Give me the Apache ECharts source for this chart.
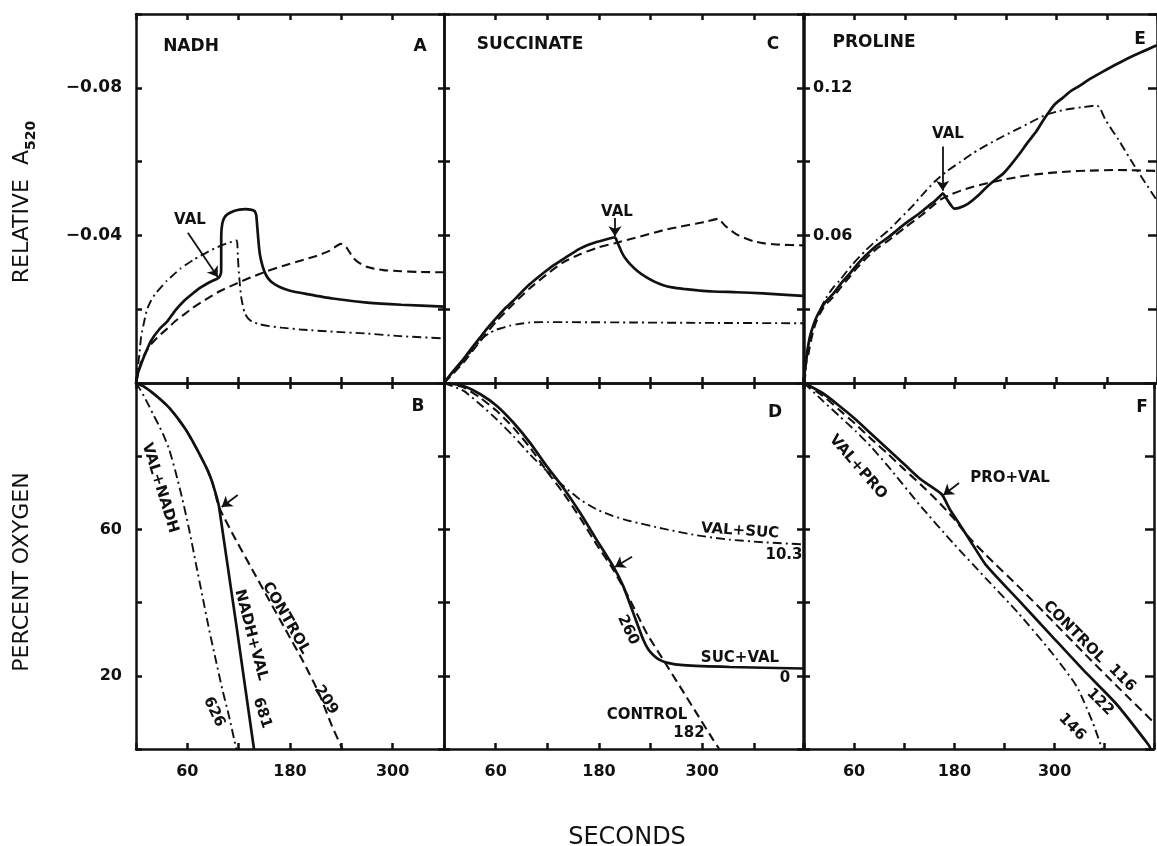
<!DOCTYPE html>
<html>
<head>
<meta charset="utf-8">
<title>Valinomycin: NADH, succinate, proline</title>
<script src="https://cdn.jsdelivr.net/npm/echarts@6/dist/echarts.min.js"></script>
<style>
  html, body { margin: 0; padding: 0; background: #fff; }
  #chart { width: 1157px; height: 846px; }
</style>
</head>
<body>
<div id="chart"></div>
<script>
// [seconds, value] pairs
// top row: relative A520, bottom row: percent oxygen

// A - NADH
const nadhSolid = [[0,0],[2,-0.0025],[5.8,-0.005],[10,-0.0075],[17.5,-0.0114],[27,-0.0145],[36.9,-0.0168],[46,-0.0197],[56.3,-0.0223],[66,-0.0242],[75.7,-0.0259],[86,-0.0273],[97,-0.0286],[99.5,-0.03],[99.7,-0.0405],[100.9,-0.0432],[103,-0.0447],[106.7,-0.0457],[114.5,-0.0466],[121,-0.047],[128,-0.0471],[134,-0.047],[138.5,-0.0466],[140.5,-0.0455],[141.5,-0.043],[142.4,-0.0405],[143.5,-0.0375],[144.7,-0.035],[147,-0.0325],[150,-0.0303],[154,-0.0285],[160,-0.0271],[168,-0.026],[180,-0.025],[200,-0.0241],[230,-0.0229],[270,-0.0218],[310,-0.0212],[360,-0.0207]];
const nadhDashed = [[0,0],[3,-0.003],[5.8,-0.0055],[10,-0.0078],[17.5,-0.0105],[27,-0.0128],[36.9,-0.0148],[46,-0.0168],[56.3,-0.0186],[66,-0.0203],[75.7,-0.0218],[87,-0.0234],[98.9,-0.025],[116,-0.0268],[133.9,-0.0286],[152,-0.0302],[172.7,-0.0318],[192,-0.0331],[211.5,-0.0345],[226,-0.0358],[239.4,-0.0377],[243,-0.0374],[246.4,-0.0366],[250,-0.0353],[254.1,-0.0339],[260,-0.0327],[269.7,-0.0315],[280,-0.0309],[289,-0.0306],[310,-0.0303],[330,-0.0301],[360,-0.03]];
const nadhDashDot = [[0,0],[2,-0.004],[3.9,-0.0077],[6,-0.0125],[9.7,-0.0168],[13,-0.02],[17.5,-0.0223],[23,-0.0243],[29.1,-0.0259],[36,-0.0277],[44.6,-0.0295],[52,-0.031],[60.1,-0.0323],[68,-0.0335],[75.7,-0.0345],[85,-0.0357],[95.1,-0.0368],[106,-0.0378],[117.6,-0.0386],[118.6,-0.037],[119.1,-0.0341],[120.7,-0.0286],[123,-0.0232],[126.9,-0.0191],[131,-0.0175],[135.8,-0.0166],[145,-0.0159],[153.3,-0.0155],[170,-0.015],[192.1,-0.0145],[230.9,-0.0139],[269.7,-0.0134],[308.5,-0.0127],[360,-0.0121]];

// C - succinate
const sucSolid = [[0,0],[10,-0.003],[22.4,-0.0064],[32,-0.0094],[41.8,-0.0123],[51,-0.015],[61.1,-0.0177],[70,-0.02],[80.5,-0.0223],[90,-0.0246],[99.8,-0.0268],[110,-0.0288],[119.2,-0.0305],[128,-0.032],[138.5,-0.0336],[148,-0.035],[157.9,-0.0364],[167,-0.0374],[177.2,-0.0382],[188,-0.0389],[198.5,-0.0395],[200,-0.039],[201.2,-0.0382],[203.5,-0.037],[206.3,-0.0355],[210,-0.034],[215.9,-0.0323],[225,-0.0303],[235.3,-0.0286],[245,-0.0274],[254.6,-0.0265],[265,-0.0259],[277.9,-0.0255],[295,-0.0251],[312.7,-0.0248],[340,-0.0246],[370.7,-0.0243],[417,-0.0236]];
const sucDashed = [[0,0],[10,-0.0024],[22.4,-0.0055],[41.8,-0.0113],[61.1,-0.0168],[80.5,-0.0214],[99.8,-0.0257],[119.2,-0.0294],[138.5,-0.0327],[157.9,-0.0349],[177.2,-0.0366],[198.5,-0.0379],[220,-0.0392],[254.6,-0.0414],[275,-0.0424],[293.3,-0.0432],[306,-0.0438],[318.5,-0.0445],[322,-0.0438],[326.2,-0.0427],[335.9,-0.0409],[343,-0.0399],[351.4,-0.0391],[360,-0.0384],[370.7,-0.0379],[390,-0.0375],[417,-0.0373]];
const sucDashDot = [[0,0],[10,-0.0027],[22.4,-0.0059],[32,-0.0088],[41.8,-0.0114],[47,-0.0126],[53.4,-0.0136],[60,-0.0144],[68.9,-0.015],[76,-0.0155],[84.4,-0.0159],[99.8,-0.0164],[120,-0.0165],[138.5,-0.0165],[215.9,-0.0164],[293.3,-0.0163],[417,-0.0162]];

// E - proline
const proSolid = [[0,0],[1.5,0.007],[3,0.011],[5.1,0.0155],[7.5,0.0195],[10.9,0.0232],[14.5,0.0265],[18.7,0.0293],[25,0.0328],[34.3,0.0361],[44,0.0405],[53.8,0.0443],[63,0.0481],[73.2,0.0518],[86,0.0558],[100.5,0.0593],[110,0.062],[120,0.0648],[130,0.0672],[139.5,0.0696],[148,0.072],[155,0.0739],[161,0.0758],[164.8,0.0771],[167,0.0762],[169.9,0.0746],[174,0.0725],[178.4,0.0709],[184,0.0712],[194,0.0727],[205,0.0757],[217.4,0.0798],[227,0.0826],[236.9,0.0853],[246,0.0889],[256.3,0.0934],[266,0.098],[275.8,0.1023],[284,0.1068],[291.4,0.1105],[298,0.1134],[307,0.1159],[316,0.1185],[326.5,0.1207],[340,0.1237],[353.7,0.1264],[373.2,0.13],[392.7,0.1333],[419,0.1373]];
const proDashed = [[0,0],[1.5,0.005],[3,0.009],[5.1,0.0116],[7.5,0.016],[10.9,0.0211],[14.5,0.0248],[18.7,0.028],[25,0.0316],[34.3,0.0348],[44,0.039],[53.8,0.043],[63,0.0468],[73.2,0.0505],[86,0.0545],[100.5,0.058],[120,0.0632],[139.5,0.0682],[152,0.0718],[162.9,0.0747],[174,0.0766],[186.2,0.0782],[200,0.0797],[217.4,0.0812],[236,0.0826],[256.3,0.0839],[275,0.0848],[295.3,0.0855],[315,0.086],[334.3,0.0863],[373.2,0.0866],[419,0.0862]];
const proDashDot = [[0,0],[1.2,0.002],[3,0.009],[5,0.014],[7,0.0184],[10,0.0225],[14.8,0.0266],[20,0.0305],[26.5,0.0348],[34,0.0385],[42.1,0.0416],[57,0.048],[73.2,0.0539],[86,0.058],[100.5,0.0621],[114,0.0668],[127.8,0.0716],[141,0.0767],[155,0.0818],[170,0.0862],[186.2,0.09],[201,0.0935],[217.4,0.0968],[237,0.1004],[256.3,0.1037],[272,0.1065],[287.5,0.1091],[301,0.1104],[314.8,0.1114],[330,0.1121],[347.9,0.1128],[352,0.1112],[357.6,0.1071],[373.2,0.0989],[392.7,0.088],[419,0.0741]];

// B - oxygen, NADH
const nadhValO2 = [[0,100],[8,99.2],[19.4,97.3],[29,95.4],[38.9,93.2],[48,90.6],[58.3,87.2],[68,83.3],[77.7,79],[84,76],[89.4,72.7],[97.1,66.1],[137.9,0]];
const nadhControlO2 = [[0,100],[8,99.2],[19.4,97.3],[29,95.4],[38.9,93.2],[48,90.6],[58.3,87.2],[68,83.3],[77.7,79],[84,76],[89.4,72.7],[97.1,66.1],[116.6,57.2],[136,49],[155.4,40.8],[174.8,32.6],[194.3,24.4],[213.7,15.3],[229.2,6.2],[241.3,0]];
const valNadhO2 = [[0,100],[3.9,98.6],[9,96.5],[15.5,93.6],[21,91],[27.2,88.2],[33,85.3],[38.9,81.8],[46.6,75.4],[54.4,68.1],[62.2,59.9],[69.9,50.8],[77.7,41.7],[85.5,32.6],[93.2,24.4],[101,16.2],[108.8,8.9],[116.6,0.7],[117.5,0]];

// D - oxygen, succinate
const sucValO2 = [[0,100],[22.4,99.2],[41.8,97],[61.1,93.8],[80.5,89.2],[99.8,83.7],[119.2,77.3],[138.5,71.4],[157.9,64.6],[177.2,57.2],[196.6,49.9],[208.2,44.5],[219.8,37.2],[231.4,29.9],[237,27.3],[243,25.7],[250,24.4],[258.5,23.6],[277.9,22.9],[332,22.4],[417,22]];
const sucControlO2 = [[0,100],[22.4,98.8],[41.8,96],[61.1,92.4],[80.5,87.8],[99.8,82.4],[119.2,76],[138.5,70],[157.9,63.2],[177.2,55.9],[196.6,49],[215.9,40.8],[235.3,31.7],[254.6,24.4],[274,17.1],[293.3,9.8],[312.7,2.5],[319.7,0]];
const valSucO2 = [[0,100],[22.4,97.9],[41.8,94.2],[61.1,90.1],[80.5,85.5],[99.8,80.5],[119.2,76],[138.5,71.9],[157.9,68.2],[177.2,65.5],[196,63.7],[215.9,62.3],[254.6,60.2],[293.3,58.4],[332,57.2],[370.7,56.5],[417,55.9]];

// F - oxygen, proline
const proValO2 = [[0,100],[22.6,97.2],[42.1,93.8],[61.6,90.1],[81,86],[100.5,81.9],[120,77.8],[139.5,73.7],[164.8,69.6],[174.5,65.5],[186.2,61.4],[201.8,55.9],[217.4,50.4],[256.3,40.8],[295.3,31.2],[334.3,21.6],[373.2,12.5],[412.6,1.1],[415,0]];
const proControlO2 = [[0,100],[22.6,96.5],[42.1,92.7],[61.6,88.8],[81,84.6],[100.5,80.6],[120,76.4],[139.5,72.3],[159,68],[178.4,63.2],[197.9,57.7],[217.4,53.1],[256.3,44.5],[295.3,35.5],[334.3,26.4],[373.2,17.5],[419,7.2]];
const valProO2 = [[0,100],[22.6,95.1],[42.1,91],[61.6,86.9],[81,82.4],[100.5,77.3],[139.5,66.4],[178.4,56.3],[217.4,46.7],[256.3,37.2],[295.3,26.7],[326.5,17.1],[346,7],[356.9,0]];

// valinomycin arrows: [tail, head]
const arrowA = [[60.6, -0.0407], [95.6, -0.0287]];
const arrowC = [[198.6, -0.0447], [198.6, -0.0398]];
const arrowE = [[164.6, 0.0961], [164.6, 0.0781]];
const arrowB = [[118.9, 69.4], [100.2, 66.1]];
const arrowD = [[218.4, 52.5], [198.6, 49.7]];
const arrowF = [[185.6, 72.7], [166.9, 69.4]];

const secondLabels = [60, 180, 300];
const a520Labels = [-0.08, -0.04];
const proA520Labels = [0.06, 0.12];
const oxygenLabels = [20, 60];

const INK = '#111';
const FONT = 'DejaVu Sans';
const SOLID = { color: INK, width: 2.7, type: 'solid' };
const DASHED = { color: INK, width: 2.1, type: [9, 5] };
const DASHDOT = { color: INK, width: 1.9, type: [9, 4, 2, 4] };

const grids = [
  { left: 136, top: 14, width: 308, height: 369 },
  { left: 444, top: 14, width: 359, height: 369 },
  { left: 804, top: 14, width: 359, height: 369 },
  { left: 136, top: 383, width: 308, height: 366 },
  { left: 444, top: 383, width: 359, height: 366 },
  { left: 804, top: 383, width: 359, height: 366 }
];
const xMax = [360, 417, 419, 360, 417, 419];

const near = (list) => (v) => list.some((l) => Math.abs(l - v) < 1e-6);

function frameX(g, position, labels) {
  return {
    type: 'value', gridIndex: g, position, min: 0, max: xMax[g], interval: 60,
    axisLine: { show: true, onZero: false, lineStyle: { color: INK, width: 2.5 } },
    axisTick: { show: true, inside: true, length: 6, lineStyle: { color: INK, width: 2.5 } },
    axisLabel: labels
      ? { show: true, margin: 15, color: INK, fontFamily: FONT, fontWeight: 'bold', fontSize: 16,
          formatter: (v) => (near(secondLabels)(v) ? String(v) : '') }
      : { show: false },
    splitLine: { show: false }
  };
}

function frameY(g, position, scale, labels, tickLen) {
  return Object.assign({
    type: 'value', gridIndex: g, position,
    axisLine: { show: true, onZero: false, lineStyle: { color: INK, width: 2.5 } },
    axisTick: { show: true, inside: true, length: tickLen || 6, lineStyle: { color: INK, width: 2.5 } },
    axisLabel: labels || { show: false },
    splitLine: { show: false }
  }, scale);
}

const a520Scale = { min: -0.1, max: 0, interval: 0.02, inverse: true };
const proScale = { min: 0, max: 0.15, interval: 0.03 };
const o2Scale = { min: 0, max: 100, interval: 20 };
const tickFont = { color: INK, fontFamily: FONT, fontWeight: 'bold', fontSize: 16 };

const xAxis = [];
const yAxis = [];
for (let g = 0; g < 6; g++) {
  xAxis.push(frameX(g, 'bottom', g >= 3));
  xAxis.push(frameX(g, 'top', false));
}
yAxis.push(frameY(0, 'left', a520Scale, Object.assign({}, tickFont, { show: true, margin: 14, fontSize: 17,
  formatter: (v) => (near(a520Labels)(v) ? '\u2212' + Math.abs(v).toFixed(2) : '') })));
yAxis.push(frameY(0, 'right', a520Scale));
yAxis.push(frameY(1, 'left', a520Scale));
yAxis.push(frameY(1, 'right', a520Scale));
yAxis.push(frameY(2, 'left', proScale, Object.assign({}, tickFont, { show: true, inside: true, margin: 9,
  formatter: (v) => (near(proA520Labels)(v) ? v.toFixed(2) : '') })));
yAxis.push(frameY(2, 'right', proScale, null, 9));
yAxis.push(frameY(3, 'left', o2Scale, Object.assign({}, tickFont, { show: true, margin: 14,
  formatter: (v) => (near(oxygenLabels)(v) ? String(v) : '') })));
yAxis.push(frameY(3, 'right', o2Scale));
yAxis.push(frameY(4, 'left', o2Scale));
yAxis.push(frameY(4, 'right', o2Scale));
yAxis.push(frameY(5, 'left', o2Scale));
yAxis.push(frameY(5, 'right', o2Scale, null, 9));

function curve(name, data, g, style, arrow) {
  const s = {
    name, type: 'line', data, xAxisIndex: 2 * g, yAxisIndex: 2 * g,
    showSymbol: false, symbol: 'none', smooth: 0.2, lineStyle: style,
    animation: false, silent: true, z: 3
  };
  if (arrow) {
    s.markLine = {
      silent: true, animation: false, symbol: ['none', 'arrow'], symbolSize: 10,
      label: { show: false }, lineStyle: { color: INK, width: 1.8, type: 'solid' },
      data: [[{ coord: arrow[0] }, { coord: arrow[1] }]]
    };
  }
  return s;
}

const series = [
  curve('NADH solid', nadhSolid, 0, SOLID, arrowA),
  curve('NADH dashed', nadhDashed, 0, DASHED),
  curve('NADH dash-dot', nadhDashDot, 0, DASHDOT),
  curve('Succinate solid', sucSolid, 1, SOLID, arrowC),
  curve('Succinate dashed', sucDashed, 1, DASHED),
  curve('Succinate dash-dot', sucDashDot, 1, DASHDOT),
  curve('Proline solid', proSolid, 2, SOLID, arrowE),
  curve('Proline dashed', proDashed, 2, DASHED),
  curve('Proline dash-dot', proDashDot, 2, DASHDOT),
  curve('NADH+VAL', nadhValO2, 3, SOLID, arrowB),
  curve('NADH control', nadhControlO2, 3, DASHED),
  curve('VAL+NADH', valNadhO2, 3, DASHDOT),
  curve('SUC+VAL', sucValO2, 4, SOLID, arrowD),
  curve('Succinate control', sucControlO2, 4, DASHED),
  curve('VAL+SUC', valSucO2, 4, DASHDOT),
  curve('PRO+VAL', proValO2, 5, SOLID, arrowF),
  curve('Proline control', proControlO2, 5, DASHED),
  curve('VAL+PRO', valProO2, 5, DASHDOT)
];

// [text, x, y, rotation in degrees (negative = clockwise), size]
const notes = [
  ['NADH', 191, 47, 0, 17], ['A', 420, 47, 0, 17],
  ['SUCCINATE', 530, 45, 0, 17], ['C', 773, 45, 0, 17],
  ['PROLINE', 874, 43, 0, 17], ['E', 1140, 40, 0, 17],
  ['B', 418, 407, 0, 17], ['D', 775, 413, 0, 17], ['F', 1142, 408, 0, 17],
  ['VAL', 190, 220, 0, 15], ['VAL', 617, 212, 0, 15], ['VAL', 948, 134, 0, 15],
  ['VAL+NADH', 160, 488, -73, 15], ['NADH+VAL', 251, 635, -75, 15],
  ['CONTROL', 286, 618, -60, 15], ['626', 214, 712, -65, 15],
  ['681', 262, 713, -72, 15], ['209', 326, 700, -57, 15],
  ['VAL+SUC', 740, 531, -4, 15], ['10.3', 784, 555, 0, 15],
  ['SUC+VAL', 740, 658, 0, 15], ['0', 785, 678, 0, 15],
  ['260', 628, 630, -65, 15], ['CONTROL', 647, 715, 0, 15], ['182', 689, 733, 0, 15],
  ['PRO+VAL', 1010, 478, 0, 15], ['VAL+PRO', 858, 467, -49, 15],
  ['CONTROL', 1074, 632, -45, 15], ['116', 1122, 678, -45, 15],
  ['122', 1100, 702, -45, 15], ['146', 1072, 727, -45, 15]
];

const graphic = notes.map(([text, x, y, rot, size]) => ({
  type: 'text', x, y, rotation: rot * Math.PI / 180, silent: true,
  style: { text, fill: INK, fontFamily: FONT, fontWeight: 'bold', fontSize: size,
    align: 'center', verticalAlign: 'middle' }
}));

graphic.push({
  type: 'text', x: 22, y: 202, rotation: Math.PI / 2, silent: true,
  style: {
    text: '{t|RELATIVE  A}{s|520}', align: 'center', verticalAlign: 'middle',
    rich: {
      t: { fontFamily: FONT, fontSize: 22, fill: INK, lineHeight: 32 },
      s: { fontFamily: FONT, fontSize: 14, fontWeight: 'bold', fill: INK, lineHeight: 12, verticalAlign: 'bottom' }
    }
  }
});
graphic.push({
  type: 'text', x: 22, y: 572, rotation: Math.PI / 2, silent: true,
  style: { text: 'PERCENT OXYGEN', fill: INK, fontFamily: FONT, fontSize: 22,
    align: 'center', verticalAlign: 'middle' }
});
graphic.push({
  type: 'text', x: 627, y: 838, silent: true,
  style: { text: 'SECONDS', fill: INK, fontFamily: FONT, fontSize: 24,
    align: 'center', verticalAlign: 'middle' }
});

const chart = echarts.init(document.getElementById('chart'), null, { renderer: 'canvas' });
chart.setOption({
  backgroundColor: '#fff',
  animation: false,
  grid: grids,
  xAxis,
  yAxis,
  series,
  graphic
});
</script>
</body>
</html>
